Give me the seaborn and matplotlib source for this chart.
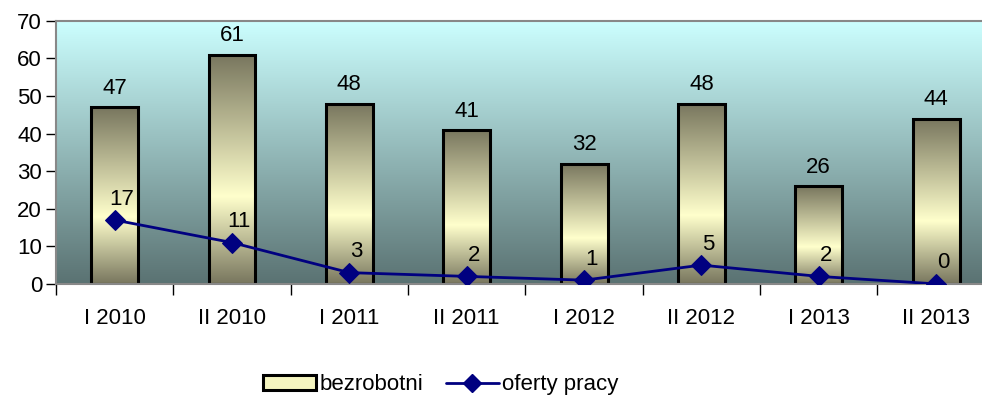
import numpy as np
import pandas as pd
import seaborn as sns
import matplotlib.pyplot as plt
from matplotlib.colors import LinearSegmentedColormap
from matplotlib.patches import Rectangle
from matplotlib.lines import Line2D

periods = ["I 2010", "II 2010", "I 2011", "II 2011", "I 2012", "II 2012", "I 2013", "II 2013"]
bezrobotni = [47, 61, 48, 41, 32, 48, 26, 44]
oferty_pracy = [17, 11, 3, 2, 1, 5, 2, 0]

sns.set_theme(style="white")
plt.rcParams['font.family'] = ['Liberation Sans', 'DejaVu Sans']
plt.rcParams['text.color'] = 'black'
plt.rcParams['xtick.color'] = 'black'
plt.rcParams['ytick.color'] = 'black'

df = pd.DataFrame({"okres": periods, "bezrobotni": bezrobotni, "oferty": oferty_pracy})

fig = plt.figure(figsize=(9.82, 4.01), dpi=100)
ax = fig.add_axes([0.057, 0.292, 0.956, 0.656])

sns.barplot(data=df, x="okres", y="bezrobotni", ax=ax, width=0.4,
            color="#ffffcc", edgecolor="black", linewidth=2.2, zorder=2)

# gradient fill for bars: dark top, light in the lower middle, dark bottom
bar_cmap = LinearSegmentedColormap.from_list(
    "bar", [(0.0, "#78765e"), (0.62, "#ffffcc"), (1.0, "#78765e")])
grad = np.linspace(0, 1, 256).reshape(-1, 1)
for patch in ax.patches:
    x0, y0 = patch.get_x(), patch.get_y()
    w, h = patch.get_width(), patch.get_height()
    im = ax.imshow(grad, cmap=bar_cmap, aspect="auto",
                   extent=[x0, x0 + w, y0, y0 + h], origin="upper", zorder=2.1)
    im.set_clip_path(patch)
    patch.set_facecolor("none")
    patch.set_zorder(2.2)

# background gradient
bg_cmap = LinearSegmentedColormap.from_list("bg", ["#ccffff", "#5a7272"])
ax.imshow(grad, cmap=bg_cmap, aspect="auto", extent=[0, 1, 0, 1],
          transform=ax.transAxes, origin="upper", zorder=0)

sns.lineplot(data=df, x="okres", y="oferty", ax=ax, color="#000080",
             marker="D", markersize=10, markeredgecolor="#000080",
             linewidth=2, zorder=3, sort=False)

for i, (b, o) in enumerate(zip(bezrobotni, oferty_pracy)):
    ax.text(i, b + 2.2, str(b), ha="center", va="bottom", fontsize=16)
    ax.text(i + 0.06, o + 2.8, str(o), ha="center", va="bottom", fontsize=16)

ax.set_xlim(-0.5, 7.5)
ax.set_ylim(0, 70)
ax.set_yticks(range(0, 71, 10))
ax.set_xlabel("")
ax.set_ylabel("")
ax.tick_params(axis="y", labelsize=16, length=7, width=1, direction="out", left=True, pad=3)
ax.tick_params(axis="x", which="major", labelsize=16, length=0, pad=17)
ax.set_xticks(np.arange(-0.5, 8, 1), minor=True)
ax.tick_params(axis="x", which="minor", length=8, width=1, direction="out", bottom=True)
for side in ["top", "left", "bottom"]:
    ax.spines[side].set_color("#888888")
    ax.spines[side].set_linewidth(1.5)
ax.spines["right"].set_visible(False)

handles = [Rectangle((0, 0), 1, 1, facecolor="#f5f5c0", edgecolor="black", linewidth=2.2),
           Line2D([0], [0], color="#000080", marker="D", markersize=9, linewidth=2)]
fig.legend(handles, ["bezrobotni", "oferty pracy"], loc="center", bbox_to_anchor=(0.449, 0.04),
           ncol=2, frameon=False, fontsize=16, handlelength=2.4, handletextpad=0.15, columnspacing=1.0)

fig.savefig("out.png", dpi=100)
